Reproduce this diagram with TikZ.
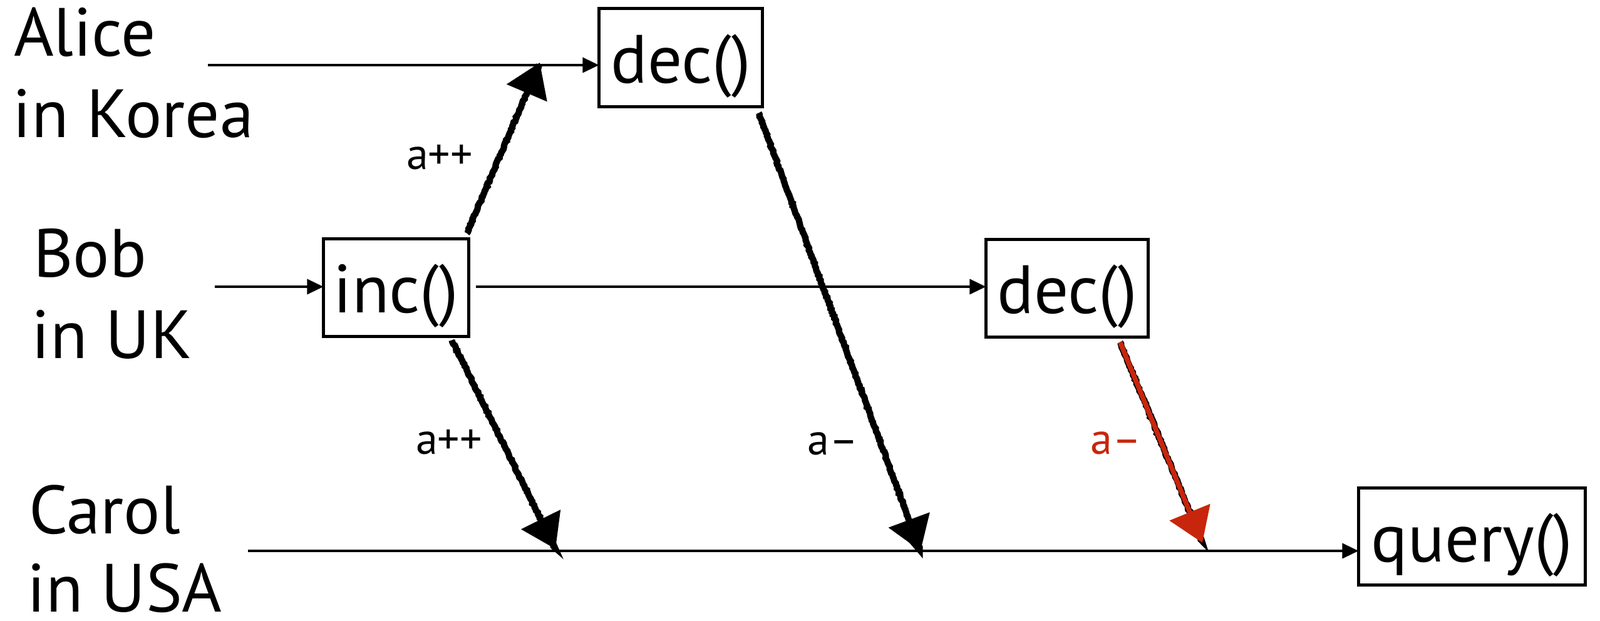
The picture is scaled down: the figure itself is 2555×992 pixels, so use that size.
\documentclass[tikz,border=0pt]{standalone}
\usepackage{fontspec}
\setmainfont{PT Sans}
\usetikzlibrary{arrows.meta,decorations.pathmorphing}
\definecolor{crimson}{RGB}{200,38,12}
\begin{document}
\begin{tikzpicture}[x=0.01cm,y=-0.01cm,
  every node/.style={inner sep=0pt,outer sep=0pt},
  who/.style={anchor=base west,font=\fontsize{31}{37}\selectfont},
  op/.style={draw,line width=1.42pt,font=\fontsize{31}{37}\selectfont,text height=28pt,text depth=5pt},
  tl/.style={line width=1.14pt,-{Triangle[length=7.4pt,width=6.8pt]}},
  msg/.style={line width=2.2pt,-{Triangle[length=15pt,width=19.5pt]},
    preaction={draw,arrows=-,line width=2.9pt,decorate,
      decoration={random steps,segment length=0.8pt,amplitude=0.3pt},shorten >=12pt}},
  lbl/.style={anchor=base,font=\fontsize{20}{24}\selectfont}]
\useasboundingbox (0,0) rectangle (2555,992);

% people
\node[who] (alice) at (22,90) {Alice};
\node[who] (alice2) at (21,220) {in Korea};
\node[who] (bob) at (53,443) {Bob};
\node[who] (bob2) at (51,573) {in UK};
\node[who] (carol) at (46,853) {Carol};
\node[who] (carol2) at (44,977) {in USA};

% operations
\node[op,minimum width=2.61cm,minimum height=1.57cm] (dec1) at (1087,92) {dec()};
\node[op,minimum width=2.32cm,minimum height=1.56cm] (inc) at (632.5,459.5) {inc()};
\node[op,minimum width=2.59cm,minimum height=1.56cm] (dec2) at (1704,460.5) {dec()};
\node[op,minimum width=3.62cm,minimum height=1.55cm] (query) at (2350.5,857) {query()};

% timelines
\coordinate (aS) at (332,104);
\draw[tl] (aS) -- (aS -| dec1.west);
\coordinate (bS) at (343,458);
\coordinate (bM) at ([xshift=0.11cm]inc.east);
\draw[tl] (bS) -- (bS -| inc.west);
\draw[tl] (bM |- bS) -- (bS -| dec2.west);
\coordinate (cS) at (396,880);
\draw[tl] (cS) -- (cS -| query.west);

% messages
\coordinate (m1) at (862,100);
\coordinate (m2) at (887,877);
\coordinate (m3) at (1470,880);
\coordinate (m4) at (1920,867);
\draw[msg] ([shift={(-3,-9)}]inc.north east) -- (m1);
\draw[msg] ([shift={(-27,6)}]inc.south east) -- (m2);
\draw[msg] ([shift={(-6,10)}]dec1.south east) -- (m3);
\draw[msg,color=crimson] ([shift={(-45,8)}]dec2.south east) -- (m4);

% labels
\node[lbl] (l1) at (702,271) {a++};
\node[lbl] (l2) at (717,726) {a++};
\node[lbl] (l3) at (1330,727) {a–};
\node[lbl,text=crimson] (l4) at (1782,726) {a–};
\end{tikzpicture}
\end{document}
